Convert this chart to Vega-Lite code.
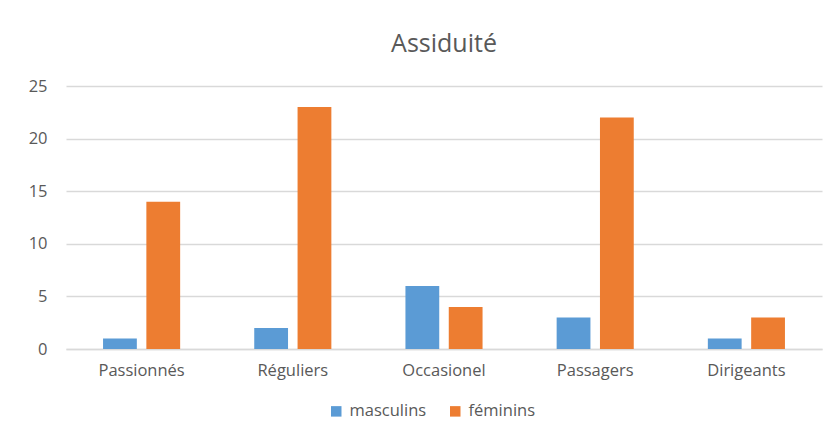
{
  "$schema": "https://vega.github.io/schema/vega-lite/v6.json",
  "autosize": {"type": "none"},
  "width": 756,
  "height": 263,
  "padding": {"left": 66, "top": 86, "right": 13, "bottom": 81},
  "background": "white",
  "title": {"text": "Assiduité", "fontSize": 25, "font": "Open Sans", "fontWeight": "normal", "color": "#595959", "offset": 21, "anchor": "middle"},
  "data": {"values": [
    {"cat": "Passionnés", "serie": "masculins", "v": 1},
    {"cat": "Passionnés", "serie": "féminins", "v": 14},
    {"cat": "Réguliers", "serie": "masculins", "v": 2},
    {"cat": "Réguliers", "serie": "féminins", "v": 23},
    {"cat": "Occasionel", "serie": "masculins", "v": 6},
    {"cat": "Occasionel", "serie": "féminins", "v": 4},
    {"cat": "Passagers", "serie": "masculins", "v": 3},
    {"cat": "Passagers", "serie": "féminins", "v": 22},
    {"cat": "Dirigeants", "serie": "masculins", "v": 1},
    {"cat": "Dirigeants", "serie": "féminins", "v": 3}
  ]},
  "mark": {"type": "bar"},
  "encoding": {
    "x": {"field": "cat", "type": "nominal", "sort": ["Passionnés", "Réguliers", "Occasionel", "Passagers", "Dirigeants"],
      "scale": {"paddingInner": 0.49, "paddingOuter": 0.245},
      "axis": {"title": null, "labelAngle": 0, "labelFont": "Open Sans", "labelFontSize": 16.5, "labelColor": "#595959", "domainColor": "#d9d9d9", "domainWidth": 1.5, "ticks": false, "labelPadding": 13}},
    "xOffset": {"field": "serie", "type": "nominal", "sort": ["masculins", "féminins"], "scale": {"paddingInner": 0.22}},
    "y": {"field": "v", "type": "quantitative", "scale": {"domain": [0, 25]},
      "axis": {"title": null, "values": [0, 5, 10, 15, 20, 25], "domain": false, "ticks": false, "gridColor": "#d9d9d9", "gridWidth": 1.5, "labelFont": "Open Sans", "labelFontSize": 16.5, "labelColor": "#595959", "labelPadding": 19}},
    "color": {"field": "serie", "type": "nominal", "sort": ["masculins", "féminins"],
      "scale": {"domain": ["masculins", "féminins"], "range": ["#5B9BD5", "#ED7D31"]},
      "legend": {"title": null, "orient": "none", "legendX": 262, "legendY": 317, "direction": "horizontal", "labelFont": "Open Sans", "labelFontSize": 16.5, "labelColor": "#595959", "symbolType": "square", "symbolSize": 110, "symbolStrokeWidth": 0, "columnPadding": 20, "labelOffset": 5}}
  },
  "config": {"view": {"stroke": null}}
}
